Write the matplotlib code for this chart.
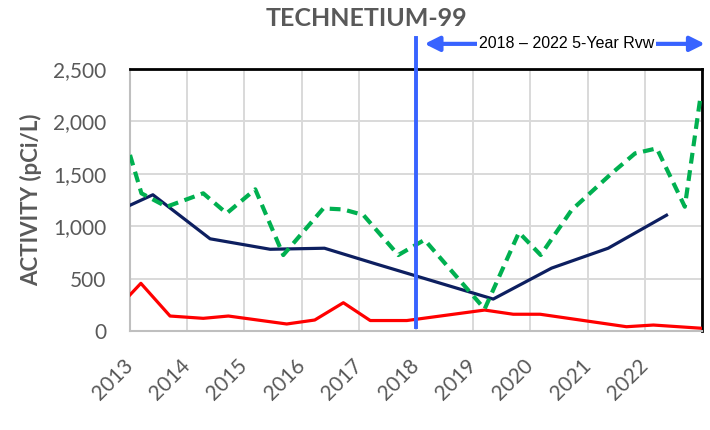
import numpy as np
import matplotlib.pyplot as plt

plt.rcParams['font.family'] = ['Lato', 'DejaVu Sans']

# decimal years
navy_x = [2013.0, 2013.4, 2014.4, 2015.45, 2016.4, 2017.3, 2019.35, 2020.37, 2021.36, 2022.38]
navy_y = [1200, 1300, 880, 780, 790, 640, 305, 600, 790, 1105]

red_x = [2013.0, 2013.19, 2013.7, 2014.28, 2014.72, 2015.74, 2016.23, 2016.73, 2017.2,
         2017.84, 2019.2, 2019.7, 2020.17, 2021.68, 2022.15, 2023.0]
red_y = [345, 455, 143, 121, 143, 67, 105, 270, 100, 100, 200, 160, 160, 41, 57, 26]

green_x = [2013.0, 2013.2, 2013.64, 2014.28, 2014.69, 2015.19, 2015.68, 2016.38, 2016.73,
           2017.08, 2017.69, 2018.15, 2019.2, 2019.8, 2020.18, 2020.72, 2021.42, 2021.83,
           2022.21, 2022.7, 2022.97]
green_y = [1680, 1314, 1186, 1314, 1123, 1352, 725, 1170, 1160, 1107, 725, 870, 210, 940,
           725, 1154, 1504, 1695, 1743, 1186, 2220]

years = list(range(2013, 2024))
year_labels = [str(y) for y in range(2013, 2023)] + ['']
yticks = [0, 500, 1000, 1500, 2000, 2500]

review_start = 2018
review_label = "2018 \u2013 2022 5-Year Rvw"

gray = '#595959'
blue = '#3863ff'

fig = plt.figure(figsize=(7.1, 4.3), dpi=100)
ax = fig.add_axes([0.1831, 0.2302, 0.8056, 0.6093])

ax.plot(navy_x, navy_y, color='#0d1f60', lw=2.3, zorder=3)
ax.plot(red_x, red_y, color='#ff0000', lw=2.3, zorder=3)
ax.plot(green_x, green_y, color='#00b050', lw=3, dashes=(2.6, 1.6), zorder=3)

ax.set_xlim(2013, 2023)
ax.set_ylim(0, 2500)
ax.set_xticks(years)
ax.set_xticklabels(year_labels, rotation=45, ha='right', va='center',
                   rotation_mode='anchor', color=gray, fontsize=15)
ax.set_yticks(yticks)
ax.set_yticklabels([f"{v:,}" for v in yticks], color=gray, fontsize=15)
ax.tick_params(axis='both', length=0)
ax.tick_params(axis='x', pad=23)
ax.tick_params(axis='y', pad=17)
ax.grid(True, color='#d9d9d9', lw=1.4)
ax.set_axisbelow(True)

for s in ['top', 'right']:
    ax.spines[s].set_color('black')
    ax.spines[s].set_linewidth(2)
for s in ['left', 'bottom']:
    ax.spines[s].set_color('#bfbfbf')
    ax.spines[s].set_linewidth(1.5)

ax.set_ylabel('ACTIVITY (pCi/L)', fontsize=16, fontweight='bold', color=gray, labelpad=8)
fig.text(366 / 710, 1 - 19 / 430, 'TECHNETIUM-99', ha='center', va='center',
         fontsize=18, fontweight='bold', color=gray)

# review period marker
ax.plot([review_start, review_start], [40, 2800], color=blue, lw=2.8, clip_on=False, zorder=4)
ax.annotate('', xy=(2018.15, 2740), xytext=(2023.05, 2740), annotation_clip=False,
            arrowprops=dict(arrowstyle='<|-|>', color=blue, lw=3, mutation_scale=22,
                            shrinkA=0, shrinkB=0))
ax.text(2020.63, 2740, review_label, ha='center', va='center', fontsize=11.5,
        family=['Liberation Sans', 'DejaVu Sans'], clip_on=False, zorder=5,
        bbox=dict(facecolor='white', edgecolor='none', pad=1.5))

fig.savefig('out.png', dpi=100)
